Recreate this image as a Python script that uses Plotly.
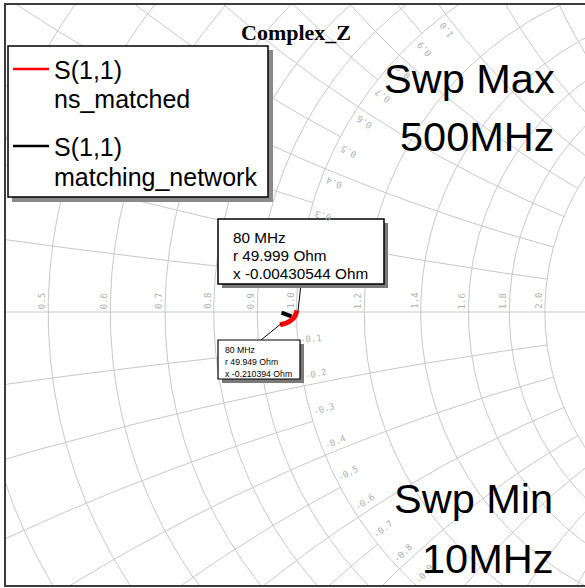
import numpy as np
import plotly.graph_objects as go

# ---------------- data ----------------
# Smith-chart grid values (normalised to 50 Ohm)
r_fine = [0.1, 0.2, 0.3, 0.4, 0.5, 0.6, 0.7, 0.8, 0.9]
r_coarse = [1.0, 1.2, 1.4, 1.6, 1.8, 2.0]
x_fine = [0.1, 0.3, 0.5, 0.7, 0.9]                                  # drawn for r <= 1
x_coarse = [0.2, 0.4, 0.6, 0.8, 1.0, 1.2, 1.4, 1.6, 1.8, 2.0]      # drawn for r <= 2
r_label_vals = [0.5, 0.6, 0.7, 0.8, 0.9, 1.0, 1.2, 1.4, 1.6, 1.8, 2.0]
r_label_txt = ["0.5", "0.6", "0.7", "0.8", "0.9", "1.0", "1.2", "1.4", "1.6", "1.8", "2.0"]
x_label_vals = [-0.1, -0.2, -0.3, -0.4, -0.5, -0.6, -0.7, -0.8, -0.9,
                0.3, 0.4, 0.5, 0.6, 0.7, 0.8, 0.9, 1.0]
x_label_txt = ["-0.1", "-0.2", "-0.3", "-0.4", "-0.5", "-0.6", "-0.7", "-0.8", "-0.9",
               "0.3", "0.4", "0.5", "0.6", "0.7", "0.8", "0.9", "1.0"]

# S(1,1) traces (reflection coefficient, real / imaginary)
ns_matched_re = [-0.0221, -0.0181, -0.0134, -0.0094, -0.0060, -0.0034, -0.0013, 0.0000, 0.0007]
ns_matched_im = [-0.0174, -0.0168, -0.0148, -0.0128, -0.0101, -0.0074, -0.0040, -0.0007, 0.0020]
mn_re = [-0.0201, -0.0168, -0.0128, -0.0094, -0.0067]
mn_im = [-0.0007, -0.0017, -0.0034, -0.0047, -0.0060]

legend_names = ["S(1,1)<br>ns_matched", "S(1,1)<br>matching_network"]
marker1_txt = ["80 MHz", "r 49.999 Ohm", "x -0.00430544 Ohm"]
marker2_txt = ["80 MHz", "r 49.949 Ohm", "x -0.210394 Ohm"]
title_txt = "Complex_Z"

# ---------------- geometry helpers ----------------
W, H = 585, 588
CX, CY, S = 296.5, 312.0, 745.0   # pixel of Gamma=0 and pixels per unit Gamma
ML, MR, MT, MB = 5, 0, 4, 2


def gx(px):
    return (px - CX) / S


def gy(py):
    return (CY - py) / S


def to_px(gr, gi):
    return CX + S * gr, CY - S * gi


GRID = "#c8c8c8"
LBL = "#b0b0b0"

gxs, gys = [], []


def add(xs, ys):
    gxs.extend(list(xs) + [None])
    gys.extend(list(ys) + [None])


th = np.linspace(0, 2 * np.pi, 1441)
for r in r_fine + r_coarse:
    c, rad = r / (1 + r), 1 / (1 + r)
    add(c + rad * np.cos(th), rad * np.sin(th))


def xarc(x, rmax):
    rr = np.linspace(0, rmax, 1200)
    z = rr + 1j * x
    g = (z - 1) / (z + 1)
    return g.real, g.imag


for x in x_fine:
    for s in (1, -1):
        a, b = xarc(s * x, 1.0)
        add(a, b)
for x in x_coarse:
    for s in (1, -1):
        a, b = xarc(s * x, 2.0)
        add(a, b)
add([-1, 1], [0, 0])

fig = go.Figure()
fig.add_trace(go.Scatter(x=gxs, y=gys, mode="lines", line=dict(color=GRID, width=1),
                         hoverinfo="skip", showlegend=False))
fig.add_trace(go.Scatter(x=mn_re, y=mn_im, mode="lines", line=dict(color="black", width=4),
                         name="S(1,1) matching_network", showlegend=False))
fig.add_trace(go.Scatter(x=ns_matched_re, y=ns_matched_im, mode="lines",
                         line=dict(color="red", width=5), name="S(1,1) ns_matched", showlegend=False))

ann = []
shapes = []

# resistance labels
for v, t in zip(r_label_vals, r_label_txt):
    px, _ = to_px((v - 1) / (v + 1), 0)
    ann.append(dict(x=gx(px - 6), y=gy(301), text=t, textangle=-90, showarrow=False,
                    font=dict(family="DejaVu Sans Mono", size=9, color=LBL)))

# reactance labels
for v, t in zip(x_label_vals, x_label_txt):
    xn = -abs(v)
    g = (1j * xn) / (2 + 1j * xn)
    C = np.array([1.0, 1.0 / xn])
    P = np.array([g.real, g.imag])
    vv = P - C
    tg = np.array([-vv[1], vv[0]])
    if tg[0] < 0:
        tg = -tg
    tg = tg / np.hypot(*tg)
    ang = np.degrees(np.arctan2(tg[1], tg[0]))
    ts = np.array([tg[0], -tg[1]])          # screen tangent
    ns = np.array([ts[1], -ts[0]])          # screen normal towards axis
    ppx, ppy = to_px(P[0], P[1])
    cxp = ppx + 14 * ts[0] + 9 * ns[0]
    cyp = ppy + 14 * ts[1] + 9 * ns[1]
    ta = -ang
    if v > 0:
        cyp = 2 * CY - cyp
        ta = 180 - ta
        if ta > 180:
            ta -= 360
    ann.append(dict(x=gx(cxp), y=gy(cyp), text=t, textangle=ta, showarrow=False,
                    font=dict(family="DejaVu Sans Mono", size=9, color=LBL)))


def rect(x0, y0, x1, y1, fill, line_color=None, lw=0):
    shapes.append(dict(type="rect", xref="x", yref="y", x0=gx(x0), x1=gx(x1), y0=gy(y1), y1=gy(y0),
                       fillcolor=fill, line=dict(color=line_color or fill, width=lw), layer="above"))


def seg(x0, y0, x1, y1, color, lw):
    shapes.append(dict(type="line", xref="x", yref="y", x0=gx(x0), x1=gx(x1), y0=gy(y0), y1=gy(y1),
                       line=dict(color=color, width=lw), layer="above"))


def txt(px, py, t, size, color="black", family="Liberation Sans", xa="left", bold=False):
    if bold:
        t = "<b>" + t + "</b>"
    ann.append(dict(x=gx(px), y=gy(py), text=t, showarrow=False, xanchor=xa, yanchor="middle",
                    font=dict(family=family, size=size, color=color)))


# frame
shapes.append(dict(type="rect", xref="paper", yref="paper", x0=0, x1=1.03, y0=0, y1=1,
                   line=dict(color="#3c3c3c", width=2), layer="above"))

# legend box
rect(12, 50, 273, 202, "#8a8a8a")
rect(8, 46, 268, 197, "white", "black", 1.5)
seg(13, 69, 49, 69, "red", 2.5)
seg(13, 146, 49, 146, "black", 2.5)
lg1 = legend_names[0].split("<br>")
lg2 = legend_names[1].split("<br>")
txt(52, 70, lg1[0], 25)
txt(52, 99, lg1[1], 25)
txt(52, 147, lg2[0], 25)
txt(52, 177, lg2[1], 25)

# marker callouts
seg(301, 284, 298, 311, "black", 1)
rect(222, 223, 388, 288, "#7a7a7a")
rect(218, 219, 384, 284, "white", "black", 1.5)
for i, t in enumerate(marker1_txt):
    txt(231, 237 + 18 * i, t, 15.3)

seg(261, 340, 282, 323, "black", 1)
rect(222, 344, 304, 383, "#7a7a7a")
rect(218, 340, 300, 379, "white", "black", 1.2)
for i, t in enumerate(marker2_txt):
    txt(223, 350 + 12 * i, t, 8.7)

# title and sweep annotations
txt(296, 32, title_txt, 22, family="Liberation Serif", xa="center", bold=True)
txt(557, 78, "Swp Max", 41.5, xa="right")
txt(557, 136, "500MHz", 41.5, xa="right")
txt(555, 498, "Swp Min", 41.5, xa="right")
txt(555, 558, "10MHz", 41.5, xa="right")

fig.update_layout(
    width=W, height=H,
    margin=dict(l=ML, r=MR, t=MT, b=MB, pad=0),
    paper_bgcolor="white", plot_bgcolor="white",
    xaxis=dict(range=[gx(ML), gx(W - MR)], visible=False, fixedrange=True),
    yaxis=dict(range=[gy(H - MB), gy(MT)], visible=False, fixedrange=True),
    shapes=shapes, annotations=ann, showlegend=False,
)
fig.write_html("out.html")
